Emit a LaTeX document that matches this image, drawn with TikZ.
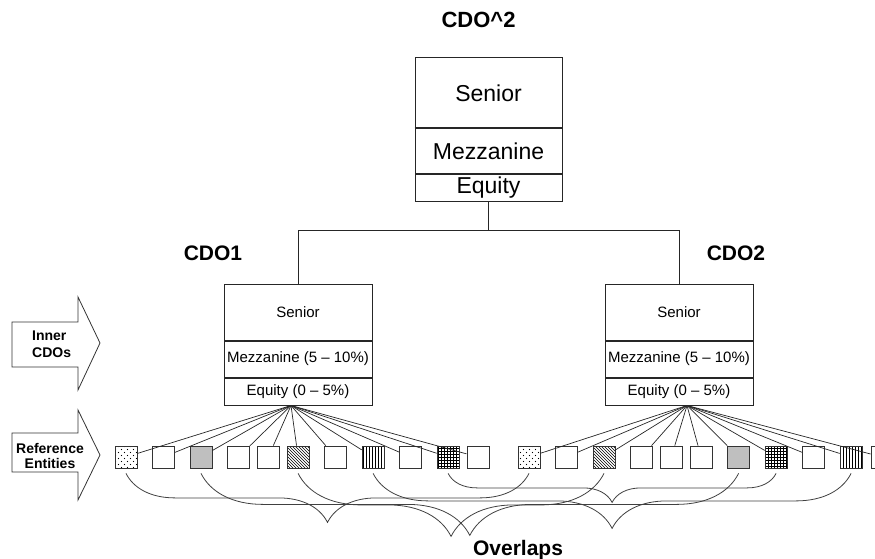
\documentclass[tikz,border=0pt]{standalone}
\usepackage{fontspec}
\setmainfont{Liberation Sans}
\usetikzlibrary{positioning,patterns,decorations.pathreplacing}

\pgfdeclarepatternformonly{sparse dots}{\pgfqpoint{-1pt}{-1pt}}{\pgfqpoint{7pt}{7pt}}{\pgfqpoint{6pt}{6pt}}{%
  \pgfpathcircle{\pgfqpoint{1.5pt}{1.5pt}}{0.55pt}%
  \pgfpathcircle{\pgfqpoint{4.5pt}{4.5pt}}{0.55pt}%
  \pgfusepath{fill}}

\tikzset{
  tranche/.style={draw=black!85, line width=1pt, minimum width=148pt, inner sep=0pt},
  entity/.style={draw=black!80, line width=0.8pt, minimum size=22pt, inner sep=0pt},
  overlap/.style={decorate, decoration={brace, mirror, raise=5pt, amplitude=#1}, draw=black!75, line width=0.8pt},
  heading/.style={font=\bfseries\fontsize{21}{25}\selectfont, anchor=base, inner sep=0pt},
  side label/.style={font=\bfseries\fontsize{14}{17}\selectfont, inner sep=0pt},
  side arrow/.style={draw=black!80, line width=0.8pt},
}

\begin{document}
\begin{tikzpicture}[x=1pt, y=1pt, node distance=14.7pt]
		\useasboundingbox (0,0) rectangle (875,-559);
		% Outer CDO
		\node[heading, font=\bfseries\fontsize{22}{26}\selectfont] (cdo sq) at (478.5,-28) {CDO\textasciicircum 2};
		\node[tranche, minimum width=147pt, minimum height=70pt, font=\fontsize{23}{27}\selectfont] (top senior) at (488.5,-93) {Senior};
		\node[tranche, minimum width=147pt, minimum height=44pt, font=\fontsize{23}{27}\selectfont, below=0pt of top senior] (top mezz) {Mezzanine};
		\node[tranche, minimum width=147pt, minimum height=27pt, font=\fontsize{23}{27}\selectfont, below=0pt of top mezz] (top equity) {Equity};
		\draw[line width=2pt, black!85] (top senior.south west) -- (top senior.south east);
		% Inner CDOs
		\node[heading] (cdo1) at (213,-260) {CDO1};
		\node[heading] (cdo2) at (736,-260) {CDO2};
		\node[tranche, minimum height=56pt, font=\fontsize{15}{18}\selectfont] (cdo1 senior) at (298,-312) {Senior};
		\node[tranche, minimum height=36pt, font=\fontsize{15}{18}\selectfont, below=0pt of cdo1 senior] (cdo1 mezz) {Mezzanine (5 – 10\%)};
		\node[tranche, minimum height=27pt, font=\fontsize{15}{18}\selectfont, below=0pt of cdo1 mezz] (cdo1 equity) {Equity (0 – 5\%)};
		\node[tranche, minimum height=56pt, font=\fontsize{15}{18}\selectfont] (cdo2 senior) at (679,-312) {Senior};
		\node[tranche, minimum height=36pt, font=\fontsize{15}{18}\selectfont, below=0pt of cdo2 senior] (cdo2 mezz) {Mezzanine (5 – 10\%)};
		\node[tranche, minimum height=27pt, font=\fontsize{15}{18}\selectfont, below=0pt of cdo2 mezz] (cdo2 equity) {Equity (0 – 5\%)};
		% Tree
		\coordinate (split) at ([yshift=-29pt]top equity.south);
		\draw[black!85, line width=0.9pt] (top equity.south) -- (split);
		\draw[black!85, line width=0.9pt] (split) -| (cdo1 senior.north);
		\draw[black!85, line width=0.9pt] (split) -| (cdo2 senior.north);
		% Side arrows
		\draw[side arrow] (12,-322) -- (78,-322) -- (78,-297) -- (100,-343) -- (78,-390) -- (78,-367) -- (12,-367) -- cycle;
		\node[side label, align=left, anchor=west] (inner) at (32,-344) {Inner\\CDOs};
		\draw[side arrow] (12,-433) -- (78,-433) -- (78,-410) -- (100,-455) -- (78,-500) -- (78,-472) -- (12,-472) -- cycle;
		\node[side label, align=center, font=\bfseries\fontsize{14}{15}\selectfont] (entities) at (50,-456) {Reference\\Entities};
		% Reference entities of CDO1
		\node[entity, pattern=sparse dots] (a1) at (126,-457) {};
		\node[entity, right=of a1] (a2) {};
		\node[entity, fill=black!25, right=of a2] (a3) {};
		\node[entity, right=of a3] (a4) {};
		\node[entity, right=7pt of a4] (a5) {};
		\node[entity, pattern=north west lines, right=7pt of a5] (a6) {};
		\node[entity, right=of a6] (a7) {};
		\node[entity, pattern=vertical lines, right=of a7] (a8) {};
		\node[entity, right=of a8] (a9) {};
		\node[entity, pattern=grid, right=of a9] (a10) {};
		\node[entity, right=7pt of a10] (a11) {};
		% Reference entities of CDO2
		\node[entity, pattern=sparse dots] (b1) at (529,-457) {};
		\node[entity, right=of b1] (b2) {};
		\node[entity, pattern=north west lines, right=of b2] (b3) {};
		\node[entity, right=of b3] (b4) {};
		\node[entity, right=7pt of b4] (b5) {};
		\node[entity, right=7pt of b5] (b6) {};
		\node[entity, fill=black!25, right=of b6] (b7) {};
		\node[entity, pattern=grid, right=of b7] (b8) {};
		\node[entity, right=of b8] (b9) {};
		\node[entity, pattern=vertical lines, right=of b9] (b10) {};
		\node[entity, right=8pt of b10] (b11) {};
		% Fans
		\coordinate (fan1) at ([xshift=-7pt]cdo1 equity.south);
		\coordinate (fan2) at ([xshift=8pt]cdo2 equity.south);
		\path[black!85, line width=0.7pt]
		(fan1) edge (a1) edge (a2) edge (a3) edge (a4) edge (a5) edge (a6) edge (a7) edge (a8) edge (a9) edge (a10) edge (a11)
		(fan2) edge (b1) edge (b2) edge (b3) edge (b4) edge (b5) edge (b6) edge (b7) edge (b8) edge (b9) edge (b10) edge (b11)
		;
		% Overlaps
		\draw[overlap=49pt] (a1.south) -- (b1.south);
		\draw[overlap=62pt] (a3.south) -- (b7.south);
		\draw[overlap=63pt] (a6.south) -- (b3.south);
		\draw[overlap=55pt] (a8.south) -- (b10.south);
		\draw[overlap=29pt] (a10.south) -- (b8.south);
		\node[heading] (overlaps) at (518,-555) {Overlaps};
	\end{tikzpicture}
\end{document}
